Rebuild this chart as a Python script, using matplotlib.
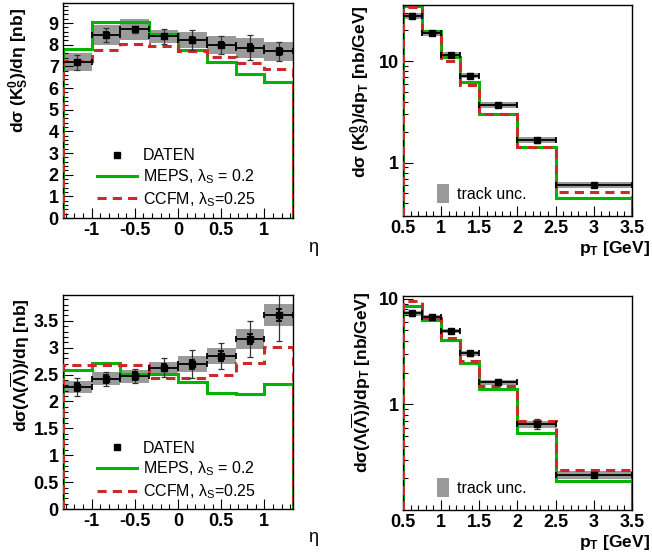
import matplotlib
matplotlib.use("Agg")
import matplotlib.pyplot as plt
from matplotlib.lines import Line2D
from matplotlib.patches import Patch
from matplotlib.ticker import MultipleLocator, FixedLocator, NullFormatter, FixedFormatter
import numpy as np

plt.rcParams['font.family'] = ['Liberation Sans', 'DejaVu Sans']
plt.rcParams['mathtext.fontset'] = 'custom'
plt.rcParams['mathtext.rm'] = 'Liberation Sans'
plt.rcParams['mathtext.it'] = 'Liberation Sans:italic'
plt.rcParams['mathtext.bf'] = 'Liberation Sans:bold'

GREEN = '#00b400'
RED = '#cc2a2a'
BAND = '#9a9a9a'

# eta binning (both particles)
eta_edges = [-1.333, -1.0, -0.667, -0.333, 0.0, 0.333, 0.667, 1.0, 1.333]
# pT binning
pt_edges = [0.5, 0.75, 1.0, 1.25, 1.5, 2.0, 2.5, 3.5]

# K0s vs eta
k0_eta = [7.19, 8.45, 8.71, 8.39, 8.22, 8.00, 7.87, 7.70]
k0_eta_stat = [0.12, 0.12, 0.10, 0.12, 0.14, 0.15, 0.16, 0.16]
k0_eta_tot = [0.35, 0.31, 0.15, 0.35, 0.46, 0.42, 0.59, 0.45]
k0_eta_band = [0.41, 0.46, 0.50, 0.30, 0.38, 0.42, 0.46, 0.44]
k0_eta_meps = [7.81, 9.05, 9.05, 8.51, 7.75, 7.22, 6.67, 6.30]
k0_eta_ccfm = [7.24, 7.75, 8.02, 7.94, 7.70, 7.44, 7.16, 6.90]

# K0s vs pT
k0_pt = [27.9, 19.0, 11.6, 7.2, 3.69, 1.67, 0.61]
k0_pt_stat = [0.6, 0.4, 0.25, 0.15, 0.07, 0.04, 0.015]
k0_pt_tot = [1.5, 0.8, 0.5, 0.35, 0.15, 0.10, 0.03]
k0_pt_band = [2.0, 1.2, 0.7, 0.45, 0.25, 0.12, 0.04]
k0_pt_meps = [34.8, 19.9, 10.9, 6.2, 3.03, 1.44, 0.446]
k0_pt_ccfm = [33.7, 19.2, 10.0, 5.8, 2.99, 1.43, 0.52]

# Lambda vs eta
lam_eta = [2.27, 2.42, 2.47, 2.63, 2.69, 2.85, 3.16, 3.61]
lam_eta_stat = [0.08, 0.07, 0.07, 0.07, 0.08, 0.09, 0.10, 0.11]
lam_eta_tot = [0.16, 0.13, 0.13, 0.17, 0.26, 0.24, 0.34, 0.48]
lam_eta_band = [0.12, 0.12, 0.12, 0.10, 0.15, 0.15, 0.18, 0.20]
lam_eta_meps = [2.58, 2.71, 2.52, 2.51, 2.37, 2.16, 2.14, 2.32]
lam_eta_ccfm = [2.68, 2.68, 2.67, 2.43, 2.44, 2.50, 2.71, 3.02]

# Lambda vs pT
lam_pt = [7.27, 6.70, 4.95, 3.03, 1.61, 0.65, 0.215]
lam_pt_stat = [0.15, 0.12, 0.1, 0.06, 0.03, 0.03, 0.008]
lam_pt_tot = [0.4, 0.3, 0.25, 0.15, 0.08, 0.07, 0.015]
lam_pt_band = [0.45, 0.35, 0.25, 0.15, 0.09, 0.05, 0.02]
lam_pt_meps = [8.47, 6.25, 4.05, 2.47, 1.41, 0.54, 0.19]
lam_pt_ccfm = [9.6, 6.6, 4.26, 2.58, 1.49, 0.69, 0.24]


def draw_panel(ax, edges, val, stat, tot, band, meps, ccfm, base):
    edges = np.array(edges)
    val = np.array(val)
    centers = 0.5 * (edges[1:] + edges[:-1])
    halfw = 0.5 * (edges[1:] - edges[:-1])
    band = np.array(band)
    ax.bar(centers, 2 * band, width=2 * halfw, bottom=val - band,
           color=BAND, edgecolor='none', zorder=1)
    ax.stairs(meps, edges, baseline=base, color=GREEN, lw=2.2, zorder=2)
    ax.stairs(ccfm, edges, baseline=base, color=RED, lw=2.2,
              linestyle=(0, (3, 2)), zorder=3)
    ax.errorbar(centers, val, yerr=tot, fmt='none', ecolor='#333333',
                elinewidth=0.9, capsize=2.5, capthick=0.9, zorder=4)
    ax.errorbar(centers, val, yerr=stat, xerr=halfw, fmt='s', color='black',
                ms=5, elinewidth=1.3, capsize=2, capthick=1.3, zorder=5)


def style_axis(ax):
    ax.tick_params(which='both', direction='in', top=False, right=False,
                   labelsize=13, pad=3)
    ax.tick_params(which='major', length=7, width=0.8)
    ax.tick_params(which='minor', length=3.5, width=0.8)
    for lab in ax.get_xticklabels() + ax.get_yticklabels():
        lab.set_fontweight('bold')
    for sp in ax.spines.values():
        sp.set_linewidth(1.0)


fig = plt.figure(figsize=(6.52, 5.58), dpi=100)

ax1 = fig.add_axes([0.0966, 0.6093, 0.3528, 0.3853])
ax2 = fig.add_axes([0.618, 0.6129, 0.3512, 0.378])
ax3 = fig.add_axes([0.0966, 0.0878, 0.3528, 0.3835])
ax4 = fig.add_axes([0.618, 0.086, 0.3512, 0.3835])

draw_panel(ax1, eta_edges, k0_eta, k0_eta_stat, k0_eta_tot, k0_eta_band,
           k0_eta_meps, k0_eta_ccfm, 0)
ax1.set_xlim(-1.333, 1.333)
ax1.set_ylim(0, 9.93)
ax1.xaxis.set_minor_locator(MultipleLocator(0.1))
ax1.yaxis.set_major_locator(MultipleLocator(1))
ax1.yaxis.set_minor_locator(MultipleLocator(0.2))
ax1.set_xticks([-1, -0.5, 0, 0.5, 1], ['-1', '-0.5', '0', '0.5', '1'])

draw_panel(ax3, eta_edges, lam_eta, lam_eta_stat, lam_eta_tot, lam_eta_band,
           lam_eta_meps, lam_eta_ccfm, 0)
ax3.set_xlim(-1.333, 1.333)
ax3.set_ylim(0, 3.98)
ax3.xaxis.set_minor_locator(MultipleLocator(0.1))
ax3.yaxis.set_minor_locator(MultipleLocator(0.1))
ax3.set_xticks([-1, -0.5, 0, 0.5, 1], ['-1', '-0.5', '0', '0.5', '1'])
ax3.set_yticks([0, 0.5, 1, 1.5, 2, 2.5, 3, 3.5],
               ['0', '0.5', '1', '1.5', '2', '2.5', '3', '3.5'])

for ax, vals, ymin, ymax in [
        (ax2, (k0_pt, k0_pt_stat, k0_pt_tot, k0_pt_band, k0_pt_meps, k0_pt_ccfm), 0.3, 35.5),
        (ax4, (lam_pt, lam_pt_stat, lam_pt_tot, lam_pt_band, lam_pt_meps, lam_pt_ccfm), 0.1, 10.6)]:
    ax.set_yscale('log')
    draw_panel(ax, pt_edges, *vals, ymin)
    ax.set_xlim(0.5, 3.5)
    ax.set_ylim(ymin, ymax)
    ax.set_xticks([0.5, 1, 1.5, 2, 2.5, 3, 3.5],
                  ['0.5', '1', '1.5', '2', '2.5', '3', '3.5'])
    ax.xaxis.set_minor_locator(MultipleLocator(0.1))
    ax.yaxis.set_major_locator(FixedLocator([1, 10]))
    ax.yaxis.set_major_formatter(FixedFormatter(['1', '10']))
    minors = [m * d for d in (0.1, 1, 10) for m in range(2, 10)]
    ax.yaxis.set_minor_locator(FixedLocator(minors))
    ax.yaxis.set_minor_formatter(NullFormatter())

for ax in (ax1, ax2, ax3, ax4):
    style_axis(ax)

# legends
handles = [Line2D([], [], marker='s', color='black', ls='none', ms=5),
           Line2D([], [], color=GREEN, lw=2.2),
           Line2D([], [], color=RED, lw=2.2, ls=(0, (3, 2)))]
labels = ['DATEN', r'MEPS, λ$_\mathrm{S}$ = 0.2', r'CCFM, λ$_\mathrm{S}$=0.25']
for ax, top in [(ax1, 0.325), (ax3, 0.32)]:
    ax.legend(handles, labels, loc='upper left', bbox_to_anchor=(0.15, top),
              frameon=False, fontsize=11.5, handlelength=2.5, handletextpad=0.35,
              labelspacing=0.25, borderpad=0, borderaxespad=0)

for ax, yc in [(ax2, 0.107), (ax4, 0.105)]:
    ax.legend([Patch(facecolor=BAND, edgecolor='none')], ['track unc.'],
              loc='center left', bbox_to_anchor=(0.15, yc), frameon=False,
              fontsize=11.5, handlelength=0.75, handleheight=1.4,
              handletextpad=0.5, borderpad=0, borderaxespad=0)

# axis titles
W, H = 652.0, 558.0
fig.text(19 / W, 1 - 8 / H, r'dσ (K$^\mathbf{0}_\mathbf{S}$)/dη [nb]', rotation=90,
         ha='center', va='top', fontsize=12.5, fontweight='bold')
fig.text(361 / W, 1 - 5 / H, r'dσ (K$^\mathbf{0}_\mathbf{S}$)/dp$_\mathbf{T}$ [nb/GeV]',
         rotation=90, ha='center', va='top', fontsize=12.5, fontweight='bold')
fig.text(20 / W, 1 - 298 / H, r'dσ(Λ($\mathbf{\overline{Λ}}$))/dη [nb]', rotation=90,
         ha='center', va='top', fontsize=12.5, fontweight='bold')
fig.text(361 / W, 1 - 292 / H, r'dσ(Λ($\mathbf{\overline{Λ}}$))/dp$_\mathbf{T}$ [nb/GeV]',
         rotation=90, ha='center', va='top', fontsize=12.5, fontweight='bold')

fig.text(313 / W, 1 - 248 / H, 'η', ha='center', va='center', fontsize=13)
fig.text(313 / W, 1 - 537 / H, 'η', ha='center', va='center', fontsize=13)
fig.text(650 / W, 1 - 249 / H, r'p$_\mathbf{T}$ [GeV]', ha='right', va='center',
         fontsize=12.5, fontweight='bold')
fig.text(650 / W, 1 - 543 / H, r'p$_\mathbf{T}$ [GeV]', ha='right', va='center',
         fontsize=12.5, fontweight='bold')

fig.savefig('out.png', dpi=100)
